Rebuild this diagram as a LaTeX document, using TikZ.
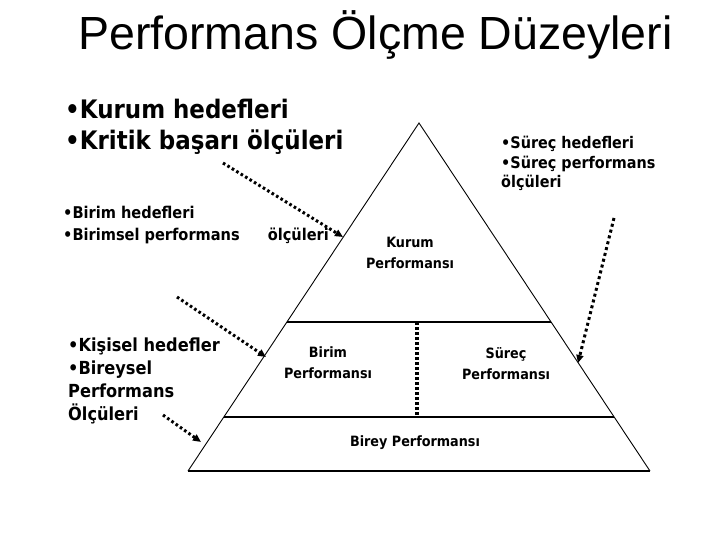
\documentclass[tikz,border=0pt]{standalone}
\usepackage{fontspec}
\setmainfont{Liberation Sans}
\newfontfamily\slidefont[FakeStretch=0.9]{DejaVu Sans}
\usetikzlibrary{arrows.meta,calc,positioning}
\newcommand{\slidesize}[2]{\slidefont\bfseries\fontsize{#1}{#2}\selectfont}
\tikzset{
  edgeline/.style={line width=0.9pt},
  tierline/.style={line width=1.5pt},
  dotdivider/.style={line width=4pt,dash pattern=on 3pt off 2pt},
  goalarrow/.style={-{Triangle[length=8pt,width=7pt]},line width=3pt,dash pattern=on 2.6pt off 2.6pt},
  goaltext/.style={inner sep=0pt,anchor=north west,align=left},
  tiertext/.style={inner sep=0pt,anchor=north,align=center,font=\slidesize{14.2}{21}}
}

\begin{document}
\begin{tikzpicture}[x=1pt,y=-1pt]
  \useasboundingbox (0,0) rectangle (720,540);

  % --- Title ---
  \node[font=\fontsize{46.5}{50}\selectfont,anchor=base,inner sep=0pt] (title)
    at (375.5,50) {Performans Ölçme Düzeyleri};

  % --- Pyramid ---
  \coordinate (apex) at (419,123);
  \coordinate (bl) at (188,471);
  \coordinate (br) at (650,471);
  \coordinate (m1l) at ($(apex)!0.5718!(bl)$);
  \coordinate (m1r) at ($(apex)!0.5718!(br)$);
  \coordinate (m2l) at ($(apex)!0.8448!(bl)$);
  \coordinate (m2r) at ($(apex)!0.8448!(br)$);

  \draw[edgeline] (bl) -- (apex) -- (br);
  \draw[tierline] (bl) -- (br);
  \draw[tierline] (m1l) -- (m1r);
  \draw[tierline] (m2l) -- (m2r);

  \coordinate (divtop) at (417,322);
  \coordinate (divbot) at (417,417);
  \draw[dotdivider] (divtop) -- (divbot);

  % --- Level labels ---
  \node[tiertext] (kurumperf) at (410,237) {Kurum\\Performansı};
  \node[tiertext] (birimperf) at (328,347) {Birim\\Performansı};
  \node[tiertext] (surecperf) at (506,347) {Süreç\\Performansı};
  \node[tiertext] (bireyperf) at (415,436) {Birey Performansı};

  % --- Goals and measures ---
  \node[goaltext,font=\slidesize{25.5}{31}] (kurumgoal) at (65,99)
    {•Kurum hedefleri\\•Kritik başarı ölçüleri};

  \node[goaltext,font=\slidesize{16.2}{22}] (birimgoal) at (63,206)
    {•Birim hedefleri\\•Birimsel performans\hspace{28pt}ölçüleri};

  \node[goaltext,font=\slidesize{16}{19.5}] (surecgoal) at (501,136)
    {•Süreç hedefleri\\•Süreç performans\\ölçüleri};

  \node[goaltext,font=\slidesize{18}{23}] (kisigoal) at (68,338)
    {•Kişisel hedefler\\•Bireysel\\Performans\\Ölçüleri};

  % --- Pointers to the pyramid ---
  \coordinate (t1) at (223,163);
  \coordinate (h1) at (343,237);
  \coordinate (t2) at (177,297);
  \coordinate (h2) at (266,357);
  \coordinate (t3) at (163,415);
  \coordinate (h3) at (201,442);
  \coordinate (t4) at (614,218);
  \coordinate (h4) at (578,363);

  \draw[goalarrow] (t1) -- (h1);
  \draw[goalarrow] (t2) -- (h2);
  \draw[goalarrow] (t3) -- (h3);
  \draw[goalarrow,dash pattern=on 3pt off 3pt] (t4) -- (h4);

\end{tikzpicture}
\end{document}
